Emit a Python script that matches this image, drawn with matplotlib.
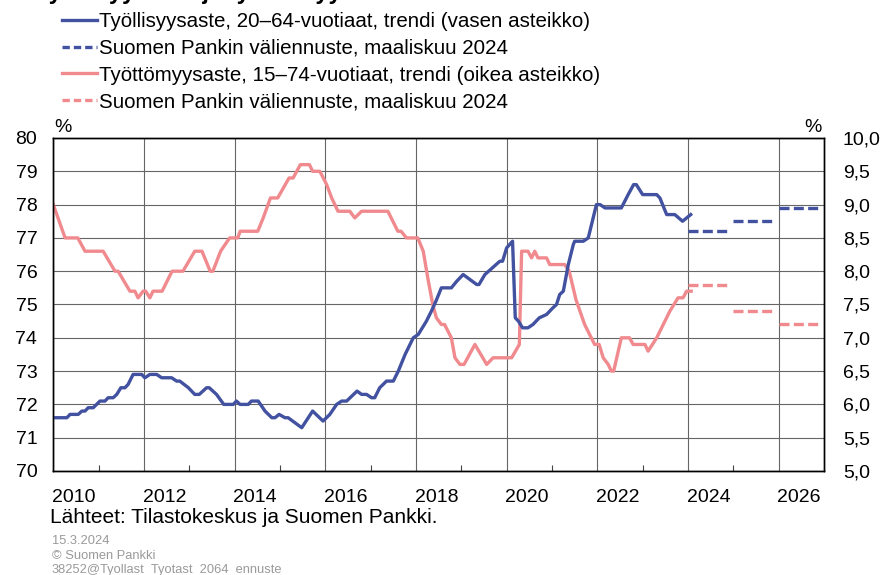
import matplotlib
matplotlib.use("Agg")
import matplotlib.pyplot as plt
from matplotlib.lines import Line2D
import matplotlib.transforms as mtransforms

plt.rcParams['font.family'] = ['Liberation Sans', 'DejaVu Sans']

# ---- data ----
emp_years = [2010.00, 2010.30, 2010.37, 2010.55, 2010.63, 2010.70, 2010.77, 2010.88, 2011.03, 2011.14,
             2011.21, 2011.32, 2011.40, 2011.49, 2011.58, 2011.65, 2011.76, 2011.95, 2012.02, 2012.13,
             2012.28, 2012.39, 2012.61, 2012.72, 2012.79, 2012.98, 2013.12, 2013.22, 2013.38, 2013.44,
             2013.60, 2013.76, 2013.97, 2014.04, 2014.12, 2014.30, 2014.37, 2014.52, 2014.67, 2014.82,
             2014.89, 2014.98, 2015.11, 2015.18, 2015.48, 2015.72, 2015.95, 2016.10, 2016.25, 2016.36,
             2016.47, 2016.70, 2016.80, 2016.91, 2017.02, 2017.09, 2017.20, 2017.35, 2017.50, 2017.61,
             2017.76, 2017.94, 2018.05, 2018.23, 2018.34, 2018.44, 2018.56, 2018.78, 2018.90, 2019.04,
             2019.34, 2019.39, 2019.52, 2019.85, 2019.91, 2020.00, 2020.13, 2020.19, 2020.26, 2020.35,
             2020.47, 2020.58, 2020.72, 2020.88, 2021.02, 2021.10, 2021.17, 2021.25, 2021.36, 2021.47,
             2021.50, 2021.69, 2021.80, 2021.98, 2022.06, 2022.17, 2022.53, 2022.68, 2022.80, 2022.86,
             2023.00, 2023.31, 2023.38, 2023.53, 2023.71, 2023.88, 2024.06]
emp_values = [71.6, 71.6, 71.7, 71.7, 71.8, 71.8, 71.9, 71.9, 72.1, 72.1,
              72.2, 72.2, 72.3, 72.5, 72.5, 72.6, 72.9, 72.9, 72.8, 72.9,
              72.9, 72.8, 72.8, 72.7, 72.7, 72.5, 72.3, 72.3, 72.5, 72.5,
              72.3, 72.0, 72.0, 72.1, 72.0, 72.0, 72.1, 72.1, 71.8, 71.6,
              71.6, 71.7, 71.6, 71.6, 71.3, 71.8, 71.5, 71.7, 72.0, 72.1,
              72.1, 72.4, 72.3, 72.3, 72.2, 72.2, 72.5, 72.7, 72.7, 73.0,
              73.5, 74.0, 74.1, 74.5, 74.8, 75.1, 75.5, 75.5, 75.7, 75.9,
              75.6, 75.6, 75.9, 76.3, 76.3, 76.7, 76.9, 74.6, 74.5, 74.3,
              74.3, 74.4, 74.6, 74.7, 74.9, 75.0, 75.3, 75.4, 76.2, 76.8,
              76.9, 76.9, 77.0, 78.0, 78.0, 77.9, 77.9, 78.3, 78.6, 78.6,
              78.3, 78.3, 78.2, 77.7, 77.7, 77.5, 77.7]

unemp_years = [2010.00, 2010.26, 2010.54, 2010.70, 2011.10, 2011.36, 2011.43, 2011.69, 2011.80, 2011.87,
               2011.98, 2012.04, 2012.13, 2012.20, 2012.40, 2012.62, 2012.86, 2013.12, 2013.28, 2013.46,
               2013.52, 2013.69, 2013.89, 2014.07, 2014.12, 2014.51, 2014.63, 2014.79, 2014.95, 2015.20,
               2015.29, 2015.45, 2015.65, 2015.72, 2015.88, 2016.03, 2016.14, 2016.28, 2016.54, 2016.65,
               2016.80, 2017.38, 2017.60, 2017.67, 2017.79, 2018.04, 2018.16, 2018.26, 2018.37, 2018.45,
               2018.56, 2018.63, 2018.78, 2018.86, 2018.97, 2019.06, 2019.30, 2019.56, 2019.70, 2020.11,
               2020.28, 2020.33, 2020.47, 2020.55, 2020.62, 2020.69, 2020.88, 2020.95, 2021.28, 2021.38,
               2021.53, 2021.72, 2021.94, 2022.04, 2022.13, 2022.24, 2022.31, 2022.36, 2022.53, 2022.71,
               2022.79, 2023.05, 2023.12, 2023.31, 2023.60, 2023.78, 2023.89, 2023.97, 2024.07]
unemp_values = [9.0, 8.5, 8.5, 8.3, 8.3, 8.0, 8.0, 7.7, 7.7, 7.6,
                7.7, 7.7, 7.6, 7.7, 7.7, 8.0, 8.0, 8.3, 8.3, 8.0,
                8.0, 8.3, 8.5, 8.5, 8.6, 8.6, 8.8, 9.1, 9.1, 9.4,
                9.4, 9.6, 9.6, 9.5, 9.5, 9.3, 9.1, 8.9, 8.9, 8.8,
                8.9, 8.9, 8.6, 8.6, 8.5, 8.5, 8.3, 7.9, 7.5, 7.3,
                7.2, 7.2, 7.0, 6.7, 6.6, 6.6, 6.9, 6.6, 6.7, 6.7,
                6.9, 8.3, 8.3, 8.2, 8.3, 8.2, 8.2, 8.1, 8.1, 8.0,
                7.57, 7.2, 6.9, 6.9, 6.7, 6.6, 6.5, 6.5, 7.0, 7.0,
                6.9, 6.9, 6.8, 7.0, 7.4, 7.6, 7.6, 7.7, 7.7]

forecast_years = [2024, 2025, 2026]
emp_forecast = [77.2, 77.5, 77.9]
unemp_forecast = [7.8, 7.4, 7.2]

year_labels = ['2010', '2012', '2014', '2016', '2018', '2020', '2022', '2024', '2026']
left_ticks = [70, 71, 72, 73, 74, 75, 76, 77, 78, 79, 80]
right_ticks = [5.0, 5.5, 6.0, 6.5, 7.0, 7.5, 8.0, 8.5, 9.0, 9.5, 10.0]

legend_labels = ['Työllisyysaste, 20–64-vuotiaat, trendi (vasen asteikko)',
                 'Suomen Pankin väliennuste, maaliskuu 2024',
                 'Työttömyysaste, 15–74-vuotiaat, trendi (oikea asteikko)',
                 'Suomen Pankin väliennuste, maaliskuu 2024']

# ---- style ----
BLUE = '#4251A0'
RED = '#F08A8E'
GRID = '#666666'
LW = 2.4
DASH = (0, (3.0, 1.3))
FS = 14
FS_LEG = 14.8

W, H = 883, 575
fig = plt.figure(figsize=(W / 100, H / 100), dpi=100)

def fx(px):
    return px / W

def fy(py):
    return 1 - py / H

ax2 = fig.add_axes([fx(53.3), fy(471), fx(824) - fx(53.3), fy(138) - fy(471)])
ax = ax2.twinx()
ax.set_zorder(ax2.get_zorder() + 1)
ax.patch.set_visible(False)

ax2.set_xlim(2010, 2027)
ax2.set_ylim(5, 10)
ax.set_ylim(70, 80)

ax2.set_xticks(list(range(2010, 2027, 2)))
ax2.set_xticks(list(range(2011, 2027, 2)), minor=True)
ax2.xaxis.grid(True, which='major', color=GRID, lw=0.8)
ax2.tick_params(axis='x', which='major', length=0, labelbottom=False)
ax2.tick_params(axis='x', which='minor', length=4, direction='in', color='#444444', width=0.8)

ax2.set_yticks(right_ticks)
ax2.yaxis.grid(True, color=GRID, lw=0.8)
ax2.set_yticklabels([f"{v:.1f}".replace('.', ',') for v in right_ticks])
ax2.yaxis.tick_right()
ax2.tick_params(axis='y', length=0, pad=13.5, labelsize=FS, labelright=True, labelleft=False)

ax.set_yticks(left_ticks)
ax.yaxis.tick_left()
ax.tick_params(axis='y', length=0, pad=11.5, labelsize=FS, labelleft=True, labelright=False)

for a in (ax, ax2):
    for s in a.spines.values():
        s.set_color('black')
        s.set_linewidth(1.0)

# data
ax2.plot(unemp_years, unemp_values, color=RED, lw=LW, solid_joinstyle='round')
for y, v in zip(forecast_years, unemp_forecast):
    ax2.plot([y, y + 11 / 12], [v, v], color=RED, lw=LW, linestyle=DASH)
ax.plot(emp_years, emp_values, color=BLUE, lw=LW, solid_joinstyle='round')
for y, v in zip(forecast_years, emp_forecast):
    ax.plot([y, y + 11 / 12], [v, v], color=BLUE, lw=LW, linestyle=DASH)

# year labels centred inside each two-year slot
trans = mtransforms.blended_transform_factory(ax2.transData, fig.transFigure)
for lab in year_labels:
    ax2.text(int(lab) + 0.45, fy(501.5), lab, transform=trans, ha='center', va='baseline',
             fontsize=FS, clip_on=False)

# % markers
fig.text(fx(54), fy(132), '%', fontsize=FS, ha='left', va='baseline')
fig.text(fx(822), fy(132), '%', fontsize=FS, ha='right', va='baseline')

# legend
handles = [Line2D([], [], color=BLUE, lw=LW),
           Line2D([], [], color=BLUE, lw=LW, linestyle=(0, (2.2, 1.2))),
           Line2D([], [], color=RED, lw=LW),
           Line2D([], [], color=RED, lw=LW, linestyle=(0, (2.2, 1.2)))]
fig.legend(handles, legend_labels, loc='upper left', bbox_to_anchor=(fx(62), fy(12)),
           frameon=False, fontsize=FS_LEG, handlelength=1.7, handletextpad=0.1,
           labelspacing=0.38, borderpad=0, borderaxespad=0)

# cut-off title at the very top
fig.text(fx(36), fy(-1), 'Työllisyysaste ja työttömyysaste', fontsize=17,
         fontweight='bold', ha='left', va='baseline')

# source and footer
fig.text(fx(50), fy(523), 'Lähteet: Tilastokeskus ja Suomen Pankki.', fontsize=15,
         ha='left', va='baseline')
GRAY = '#9a9a9a'
fig.text(fx(52), fy(541), '15.3.2024', fontsize=9.3, color=GRAY, ha='left', va='center')
fig.text(fx(52), fy(556), '© Suomen Pankki', fontsize=9.3, color=GRAY, ha='left', va='center')
fig.text(fx(52), fy(570), '38252@Tyollast_Tyotast_2064_ennuste', fontsize=9.3, color=GRAY,
         ha='left', va='center')

fig.savefig('out.png', dpi=100)
